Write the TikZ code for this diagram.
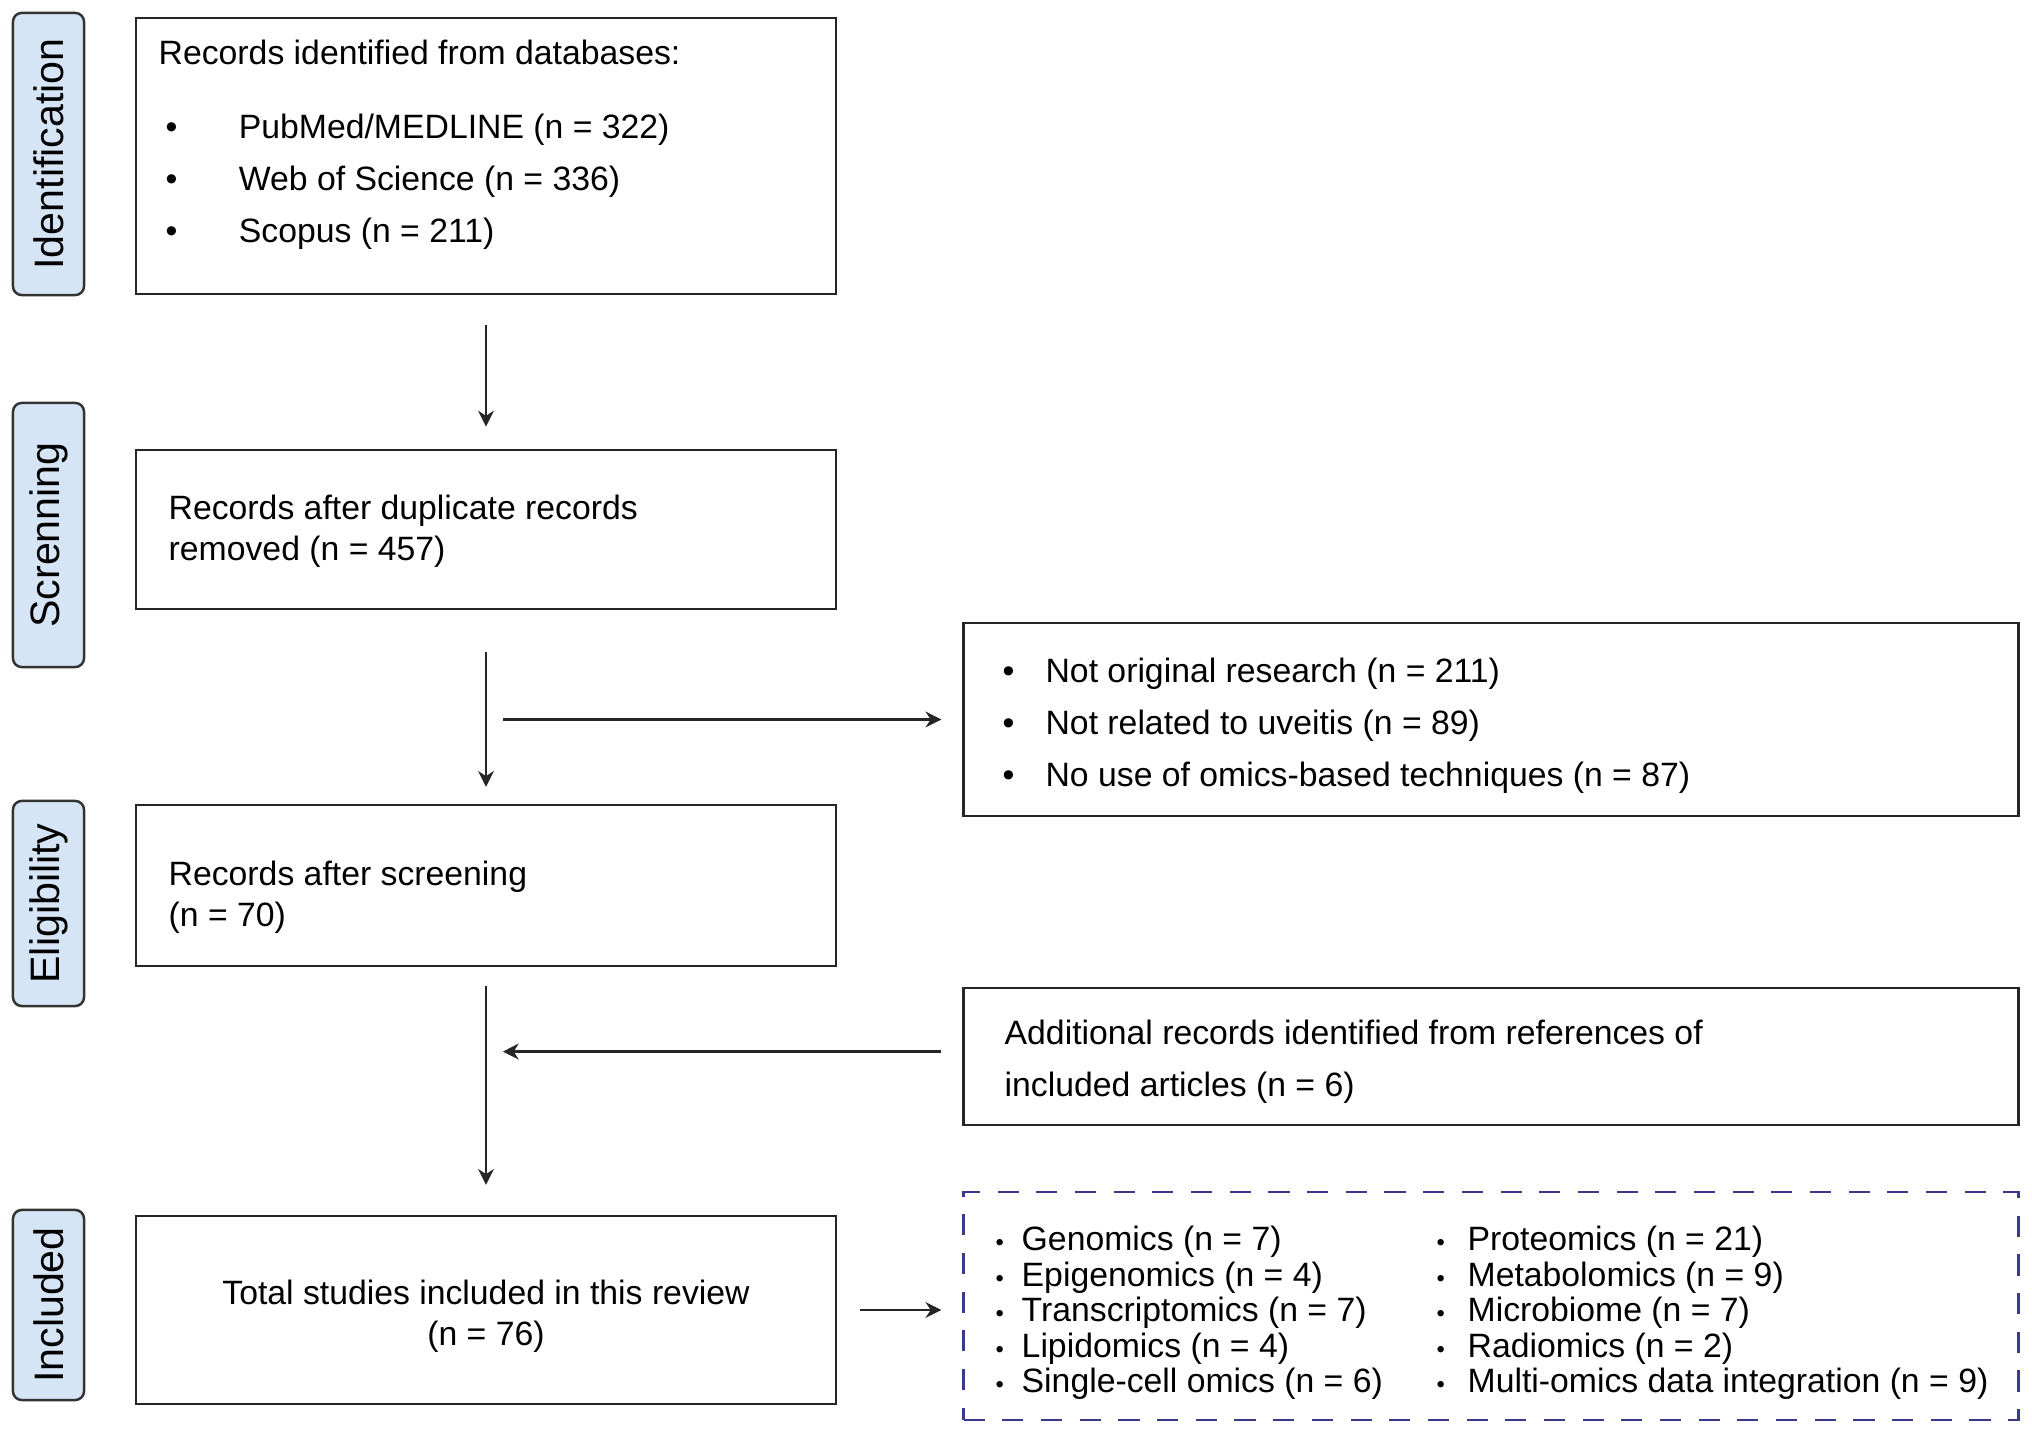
\documentclass[tikz,border=0pt]{standalone}
\usepackage{fontspec}
\setmainfont{Liberation Sans}
\usetikzlibrary{arrows.meta}
\definecolor{stagefill}{RGB}{213,229,245}
\definecolor{omicsblue}{RGB}{58,58,140}
\newcommand{\dotitem}[2][1]{\makebox[#2][l]{\scalebox{#1}{\textbullet}}}

\begin{document}
\begin{tikzpicture}[x=0.01cm, y=-0.01cm,
    box/.style ={rectangle, draw=black!85, line width=0.7pt, minimum width=7cm},
    widebox/.style ={rectangle, draw=black!85, line width=0.7pt, minimum width=10.54cm},
    boxtext/.style ={anchor=west, align=left, inner sep=0pt},
    stage/.style ={rectangle, rounded corners=2.5pt, draw=black!80, line width=0.7pt,
        fill=stagefill, rotate=90, minimum height=0.71cm, inner sep=0pt,
        font=\fontsize{11.7}{14}\selectfont},
    arr/.style ={-{Stealth[length=4.5pt, width=4.5pt]}, line width=0.7pt, black!85}]
   \useasboundingbox (0,0) rectangle (2032,1434);

   % stages
   \node[stage, minimum width=2.82cm] (idlab)  at (48.5,154)  {Identification};
   \node[stage, minimum width=2.64cm] (scrlab) at (48.5,535)  {Screnning};
   \node[stage, minimum width=2.05cm] (ellab)  at (48.5,903.5) {Eligibility};
   \node[stage, minimum width=1.90cm] (inlab)  at (48.5,1305) {Included};

   % main column
   \node[box, minimum height=2.76cm] (db)    at (486,156)   {};
   \node[box, minimum height=1.59cm] (dup)   at (486,529.5) {};
   \node[box, minimum height=1.61cm] (scr)   at (486,885.5) {};
   \node[box, minimum height=1.88cm] (total) at (486,1310)  {};

   \node[boxtext, font=\fontsize{9.6}{14.8}\selectfont] (dbtext) at (158,145)
      {Records identified from databases:\\[6.3pt]
       \hspace{2pt}\dotitem{20.8pt}PubMed/MEDLINE (n = 322)\\
       \hspace{2pt}\dotitem{20.8pt}Web of Science (n = 336)\\
       \hspace{2pt}\dotitem{20.8pt}Scopus (n = 211)};
   \node[boxtext, font=\fontsize{9.6}{11.8}\selectfont] (duptext) at (168,531.5)
      {Records after duplicate records\\removed (n = 457)};
   \node[boxtext, font=\fontsize{9.6}{11.8}\selectfont] (scrtext) at (168,897.5)
      {Records after screening\\(n = 70)};
   \node[align=center, inner sep=0pt, font=\fontsize{9.6}{11.8}\selectfont] (totaltext) at (486,1316.5)
      {Total studies included in this review\\(n = 76)};

   % right column
   \node[widebox, minimum height=1.93cm] (excl) at (1491,719.5) {};
   \node[widebox, minimum height=1.37cm] (addl) at (1491,1056.5) {};
   \node[widebox, minimum height=2.28cm, draw=omicsblue, dash pattern=on 6pt off 5pt] (omics) at (1491,1306) {};

   \node[boxtext, font=\fontsize{9.6}{14.8}\selectfont] (excltext) at (1002,726)
      {\dotitem{12.2pt}Not original research (n = 211)\\
       \dotitem{12.2pt}Not related to uveitis (n = 89)\\
       \dotitem{12.2pt}No use of omics-based techniques (n = 87)};
   \node[boxtext, font=\fontsize{9.6}{14.8}\selectfont] (addltext) at (1004,1061.5)
      {Additional records identified from references of\\included articles (n = 6)};
   \node[boxtext, font=\fontsize{9.6}{10.1}\selectfont] (omicsA) at (995,1313)
      {\dotitem[0.7]{7.4pt}Genomics (n = 7)\\
       \dotitem[0.7]{7.4pt}Epigenomics (n = 4)\\
       \dotitem[0.7]{7.4pt}Transcriptomics (n = 7)\\
       \dotitem[0.7]{7.4pt}Lipidomics (n = 4)\\
       \dotitem[0.7]{7.4pt}Single-cell omics (n = 6)};
   \node[boxtext, font=\fontsize{9.6}{10.1}\selectfont] (omicsB) at (1436,1313)
      {\dotitem[0.7]{8.8pt}Proteomics (n = 21)\\
       \dotitem[0.7]{8.8pt}Metabolomics (n = 9)\\
       \dotitem[0.7]{8.8pt}Microbiome (n = 7)\\
       \dotitem[0.7]{8.8pt}Radiomics (n = 2)\\
       \dotitem[0.7]{8.8pt}Multi-omics data integration (n = 9)};

   % arrows
   \draw[arr, shorten <=8.5pt, shorten >=6.3pt] (db) -- (dup);
   \draw[arr, shorten <=12pt, shorten >=4.8pt] (dup) -- (scr);
   \draw[arr, shorten <=5.4pt, shorten >=8.5pt] (scr) -- (total);
   \draw[arr, shorten <=4.8pt, shorten >=6pt] (excl.west -| dup.south) -- (excl.west);
   \draw[arr, shorten <=6pt, shorten >=4.8pt] ([yshift=1.4pt]addl.west) -- ([yshift=1.4pt]addl.west -| total.north);
   \draw[arr, shorten <=6.5pt, shorten >=6pt] (total.east) -- (total.east -| omics.west);
 \end{tikzpicture}
\end{document}
